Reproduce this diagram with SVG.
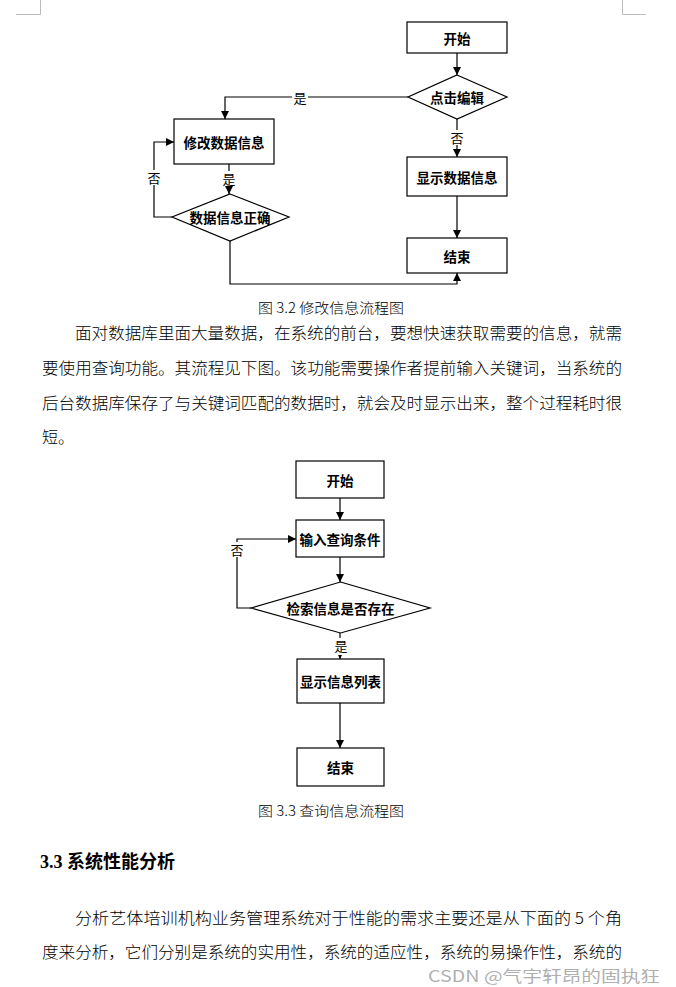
<svg xmlns="http://www.w3.org/2000/svg" width="676" height="987" viewBox="0 0 676 987">
<style>
.node{fill:#fff;stroke:#000;stroke-width:1.2}
.nt{font-family:"Noto Sans CJK SC","Liberation Serif",serif;font-weight:bold;font-size:13.5px;fill:#000;text-anchor:middle;dominant-baseline:central}
.lb{font-family:"Noto Sans CJK SC","Liberation Serif",serif;font-size:13px;fill:#000;text-anchor:middle;dominant-baseline:central}
.conn path{fill:none;stroke:#000;stroke-width:1.2}
.cap{font-family:"Noto Sans CJK SC","Liberation Sans",sans-serif;font-size:14px;fill:#000;font-weight:300}
.body{font-family:"Noto Sans CJK SC","Liberation Sans",sans-serif;font-size:16px;fill:#000;font-weight:300}
.mark{stroke:#bbb;stroke-width:1;fill:none}
.bg{fill:#fff}
</style>
<defs>
<marker id="ah" markerUnits="userSpaceOnUse" markerWidth="8" markerHeight="8" refX="8" refY="4" orient="auto">
<path d="M0,0 L8,4 L0,8 z" fill="#000"/>
</marker>
</defs>
<rect width="676" height="987" fill="#fff"/>
<path class="mark" d="M40.5,0 V14.5 H16"/>
<path class="mark" d="M622.5,0 V14.5 H646"/>

<g id="connectors1" class="conn">
<path d="M457,53 V75" marker-end="url(#ah)"/>
<path d="M408,97 H225 V119" marker-end="url(#ah)"/>
<path d="M229,164 V194" marker-end="url(#ah)"/>
<path d="M172,217 H154 V142 H174" marker-end="url(#ah)"/>
<path d="M457,119 V157" marker-end="url(#ah)"/>
<path d="M457,196 V238" marker-end="url(#ah)"/>
<path d="M230,241 V284 H457 V273" marker-end="url(#ah)"/>
</g>
<g id="labels1">
<rect class="bg" x="292" y="89" width="16" height="16"/><text class="lb" x="300" y="97">是</text>
<rect class="bg" x="221" y="171" width="16" height="15"/><text class="lb" x="229" y="178">是</text>
<rect class="bg" x="146" y="170" width="16" height="15"/><text class="lb" x="154" y="177">否</text>
<rect class="bg" x="449" y="130" width="16" height="15"/><text class="lb" x="457" y="137">否</text>
</g>
<g id="n1_start"><rect class="node" x="407" y="22" width="100" height="31"/><text class="nt" x="457" y="37.5">开始</text></g>
<g id="n1_click"><polygon class="node" points="457,75 507,97 457,119 408,97"/><text class="nt" x="457" y="97">点击编辑</text></g>
<g id="n1_modify"><rect class="node" x="174" y="119" width="100" height="45"/><text class="nt" x="224" y="141.5">修改数据信息</text></g>
<g id="n1_check"><polygon class="node" points="230,194 289,217 230,241 172,217"/><text class="nt" x="230" y="217">数据信息正确</text></g>
<g id="n1_show"><rect class="node" x="407" y="157" width="100" height="39"/><text class="nt" x="457" y="176.5">显示数据信息</text></g>
<g id="n1_end"><rect class="node" x="407" y="238" width="100" height="35"/><text class="nt" x="457" y="255.5">结束</text></g>

<text class="cap" x="258" y="313" textLength="146" lengthAdjust="spacingAndGlyphs">图 3.2  修改信息流程图</text>

<text class="body" x="75" y="339" textLength="547" lengthAdjust="spacingAndGlyphs">面对数据库里面大量数据，在系统的前台，要想快速获取需要的信息，就需</text>
<text class="body" x="42" y="374" textLength="580" lengthAdjust="spacingAndGlyphs">要使用查询功能。其流程见下图。该功能需要操作者提前输入关键词，当系统的</text>
<text class="body" x="42" y="409" textLength="580" lengthAdjust="spacingAndGlyphs">后台数据库保存了与关键词匹配的数据时，就会及时显示出来，整个过程耗时很</text>
<text class="body" x="42" y="443">短。</text>

<g id="connectors2" class="conn">
<path d="M340,498 V520" marker-end="url(#ah)"/>
<path d="M340,557 V582" marker-end="url(#ah)"/>
<path d="M251,608 H237 V539 H296" marker-end="url(#ah)"/>
<path d="M340,633 V659" marker-end="url(#ah)"/>
<path d="M340,703 V748" marker-end="url(#ah)"/>
</g>
<g id="labels2">
<rect class="bg" x="229" y="542" width="16" height="15"/><text class="lb" x="237" y="549">否</text>
<rect class="bg" x="333" y="638" width="16" height="17"/><text class="lb" x="341" y="645">是</text>
</g>
<g id="n2_start"><rect class="node" x="296" y="461" width="88" height="37"/><text class="nt" x="340" y="479.5">开始</text></g>
<g id="n2_input"><rect class="node" x="296" y="520" width="88" height="37"/><text class="nt" x="340" y="538.5">输入查询条件</text></g>
<g id="n2_check"><polygon class="node" points="340.5,582 430,608 340.5,633 251,608"/><text class="nt" x="340.5" y="607.5">检索信息是否存在</text></g>
<g id="n2_show"><rect class="node" x="297" y="659" width="87" height="44"/><text class="nt" x="340.5" y="681">显示信息列表</text></g>
<g id="n2_end"><rect class="node" x="297" y="748" width="87" height="38"/><text class="nt" x="340.5" y="767">结束</text></g>

<text class="cap" x="258" y="816" textLength="146" lengthAdjust="spacingAndGlyphs">图 3.3  查询信息流程图</text>

<text x="40" y="868" font-family="'Liberation Serif','Noto Sans CJK SC',serif" font-weight="bold" font-size="18" fill="#000">3.3 <tspan font-family="'Noto Sans CJK SC',sans-serif">系统性能分析</tspan></text>

<text class="body" x="75" y="924" textLength="547" lengthAdjust="spacingAndGlyphs">分析艺体培训机构业务管理系统对于性能的需求主要还是从下面的 5 个角</text>
<text class="body" x="42" y="958" textLength="580" lengthAdjust="spacingAndGlyphs">度来分析，它们分别是系统的实用性，系统的适应性，系统的易操作性，系统的</text>

<text x="428" y="982" font-family="'Noto Sans CJK SC','Liberation Sans',sans-serif" font-size="15.5" fill="#999" fill-opacity="0.8" textLength="232" lengthAdjust="spacingAndGlyphs">CSDN @气宇轩昂的固执狂</text>
</svg>
